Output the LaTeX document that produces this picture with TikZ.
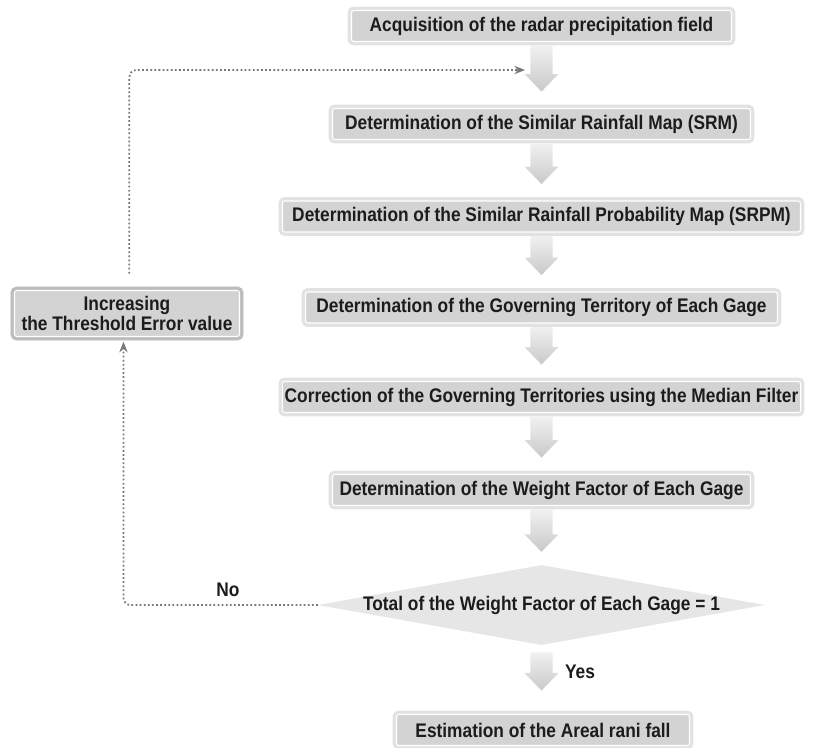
\documentclass[tikz,border=0pt]{standalone}
\usepackage{fontspec}
\setmainfont[FakeStretch=0.88]{Liberation Sans}
\usetikzlibrary{arrows.meta,calc,shapes.geometric}
\definecolor{boxfill}{HTML}{D3D3D3}
\definecolor{boxframe}{HTML}{E2E2E2}
\definecolor{ctlframe}{HTML}{BDBDBD}
\definecolor{diafill}{HTML}{E6E6E6}
\definecolor{arrtop}{HTML}{F4F4F4}
\definecolor{arrbot}{HTML}{C9C9C9}
\definecolor{loopgray}{HTML}{777777}
\definecolor{txt}{HTML}{1C1C1C}
\begin{document}
\begin{tikzpicture}[x=0.03cm,y=-0.03cm,
  font=\fontsize{16.8pt}{15.5pt}\selectfont\bfseries, text=txt,
  procbox/.style={fill=boxfill, draw=white, line width=0.9pt, rounded corners=2pt,
    preaction={draw=boxframe, line width=6.5pt}, minimum height=0.93cm, inner sep=2pt, align=center},
  decision/.style={diamond, fill=diafill, inner ysep=0pt, inner xsep=-6pt, aspect=5.6,
    minimum width=13.41cm, minimum height=2.4cm},
  flow/.style={top color=arrtop, bottom color=arrbot, draw=none,
    to path={let \p1=(\tikztostart), \p2=(\tikztotarget) in
      (\x1-9.4pt,\y1-3pt) -- (\x1+9.4pt,\y1-3pt) -- (\x1+9.4pt,\y2+#1+15pt)
      -- (\x1+14.5pt,\y2+#1+15pt) -- (\x1,\y2+#1) -- (\x1-14.5pt,\y2+#1+15pt)
      -- (\x1-9.4pt,\y2+#1+15pt) -- cycle}},
  flow/.default=14pt,
  loopline/.style={draw=loopgray, line width=1.5pt, dotted, rounded corners=6pt,
    -{Stealth[length=9pt,width=7pt,fill=loopgray]}}]
\useasboundingbox (0,0) rectangle (823,747);

\node[procbox, minimum width=11.40cm] (b1) at (541.5,26) {Acquisition of the radar precipitation field};
\node[procbox, minimum width=12.54cm] (b2) at (541.5,124) {Determination of the Similar Rainfall Map (SRM)};
\node[procbox, minimum width=15.54cm] (b3) at (541.5,216.5) {Determination of the Similar Rainfall Probability Map (SRPM)};
\node[procbox, minimum width=14.16cm] (b4) at (541.5,307.5) {Determination of the Governing Territory of Each Gage};
\node[procbox, minimum width=15.24cm] (b5) at (541.5,397) {Correction of the Governing Territories using the Median Filter};
\node[procbox, minimum width=12.54cm] (b6) at (541.5,490) {Determination of the Weight Factor of Each Gage};
\node[decision] (dec) at (541.5,605) {Total of the Weight Factor of Each Gage = 1};
\node[procbox, minimum width=8.79cm] (est) at (543,730) {Estimation of the Areal rani fall};
\node[procbox, preaction={draw=ctlframe, line width=6.5pt}, minimum width=6.75cm, minimum height=1.38cm] (ctl) at (127,313.5) {Increasing\\the Threshold Error value};
\node (no) at (228,590) {No};
\node (yes) at (580,672) {Yes};
\coordinate (loopin) at (525,70);

\path[flow] (b1.south) to (b2.north);
\path[flow] (b2.south) to (b3.north);
\path[flow] (b3.south) to (b4.north);
\path[flow] (b4.south) to (b5.north);
\path[flow] (b5.south) to (b6.north);
\path[flow=11pt] (b6.south) to (dec.north);
\path[flow=20pt] ($(dec.south)+(0,-3pt)$) to (est.north);

\draw[loopline, shorten >=4pt] (dec.west) -| ([xshift=-3pt]ctl.south);
\draw[loopline, shorten <=14pt] ([xshift=2pt]ctl.north) |- (loopin);
\end{tikzpicture}
\end{document}
